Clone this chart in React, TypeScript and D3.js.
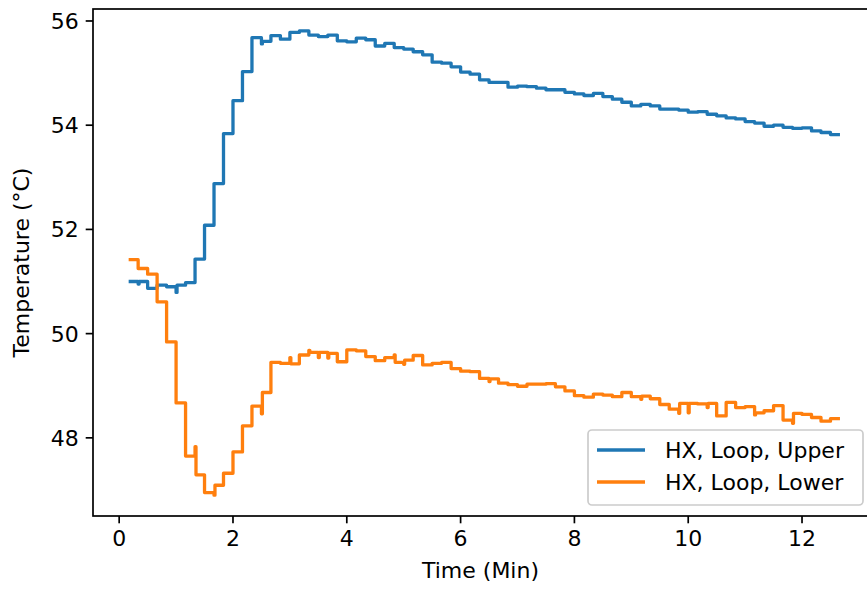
import React from 'react';
import * as d3 from 'd3';

// logger wrote one value every 10 s (times in seconds)
const timeSec = [
  10, 20, 30, 40, 50, 60, 70, 80, 90, 100, 110, 120, 130, 140, 150, 160, 170, 180, 190, 200,
  210, 220, 230, 240, 250, 260, 270, 280, 290, 300, 310, 320, 330, 340, 350, 360, 370, 380, 390, 400,
  410, 420, 430, 440, 450, 460, 470, 480, 490, 500, 510, 520, 530, 540, 550, 560, 570, 580, 590, 600,
  610, 620, 630, 640, 650, 660, 670, 680, 690, 700, 710, 720, 730, 740, 750, 760,
];

const upperTemp = [
  51.0, 51.0, 50.87, 50.93, 50.9, 50.93, 50.98, 51.43, 52.08, 52.88, 53.84, 54.47, 55.03, 55.68, 55.61, 55.72, 55.65, 55.78, 55.81, 55.73,
  55.7, 55.73, 55.62, 55.6, 55.67, 55.64, 55.52, 55.57, 55.49, 55.46, 55.41, 55.35, 55.21, 55.19, 55.12, 55.02, 54.98, 54.87, 54.82, 54.82,
  54.73, 54.75, 54.74, 54.71, 54.68, 54.68, 54.63, 54.6, 54.57, 54.61, 54.55, 54.5, 54.44, 54.37, 54.4, 54.37, 54.31, 54.31, 54.29, 54.25,
  54.26, 54.21, 54.18, 54.14, 54.12, 54.07, 54.04, 53.98, 54.0, 53.96, 53.94, 53.95, 53.89, 53.86, 53.82, 53.82,
];

const lowerTemp = [
  51.42, 51.25, 51.14, 50.61, 49.84, 48.67, 47.65, 47.29, 46.95, 47.09, 47.32, 47.73, 48.23, 48.61, 48.87, 49.45, 49.43, 49.42, 49.59, 49.64,
  49.64, 49.62, 49.46, 49.69, 49.67, 49.56, 49.48, 49.54, 49.45, 49.49, 49.58, 49.4, 49.43, 49.45, 49.33, 49.28, 49.27, 49.14, 49.13, 49.05,
  49.02, 48.99, 49.03, 49.03, 49.04, 48.98, 48.9, 48.81, 48.78, 48.84, 48.82, 48.79, 48.87, 48.79, 48.8, 48.75, 48.64, 48.55, 48.66, 48.66,
  48.65, 48.66, 48.42, 48.68, 48.58, 48.6, 48.48, 48.52, 48.62, 48.34, 48.47, 48.45, 48.39, 48.32, 48.37, 48.37,
];

// short (1 s) sensor glitches at some sample times
const upperGlitchSec = [20, 60, 150];
const upperGlitchTemp = [50.95, 50.79, 55.56];
const lowerGlitchSec = [80, 100, 150, 180, 200, 210, 220, 290, 300, 390, 550, 590, 600, 620, 670, 710];
const lowerGlitchTemp = [47.83, 46.9, 48.46, 49.54, 49.68, 49.54, 49.53, 49.59, 49.41, 49.08, 48.74, 48.47, 48.48, 48.58, 48.44, 48.28];

const xTicks = [0, 2, 4, 6, 8, 10, 12];
const yTicks = [48, 50, 52, 54, 56];
const seriesNames = ['HX, Loop, Upper', 'HX, Loop, Lower'];
const colors = ['#1f77b4', '#ff7f0e'];

const W = 867;
const H = 591;
const FONT = '"DejaVu Sans", sans-serif';
const FS = 22;

type Pt = { t: number; v: number };

function buildPoints(vals: number[], gSec: number[], gVals: number[]): Pt[] {
  const pts: Pt[] = timeSec.map((s, i) => ({ t: s / 60, v: vals[i] }));
  gSec.forEach((s, j) => {
    const p = pts.find((q) => q.t === s / 60);
    if (p) p.t += 1 / 60;
    pts.push({ t: s / 60, v: gVals[j] });
  });
  return pts.sort((a, b) => a.t - b.t);
}

export default function App() {
  const left = 93, right = 876, top = 9, bottom = 516;
  const x = d3.scaleLinear().domain([-0.46, 13.3]).range([left, right]);
  const y = d3.scaleLinear().domain([46.5, 56.23]).range([bottom, top]);

  const line = d3.line<Pt>().x((d) => x(d.t)).y((d) => y(d.v)).curve(d3.curveStepAfter);
  const series = [
    buildPoints(upperTemp, upperGlitchSec, upperGlitchTemp),
    buildPoints(lowerTemp, lowerGlitchSec, lowerGlitchTemp),
  ];

  const tickLen = 7.3;
  const lg = { x: 588, y: 430, w: 275, h: 75 };

  return (
    <svg width={W} height={H} style={{ position: 'absolute', left: 0, top: 0, background: '#fff' }}
      fontFamily={FONT}>
      <defs>
        <clipPath id="plot">
          <rect x={left} y={top} width={right - left} height={bottom - top} />
        </clipPath>
      </defs>
      <g clipPath="url(#plot)">
        {series.map((pts, i) => (
          <path key={i} d={line(pts) || ''} fill="none" stroke={colors[i]} strokeWidth={3.3}
            strokeLinejoin="round" />
        ))}
      </g>
      {/* spines */}
      <rect x={left} y={top} width={right - left} height={bottom - top} fill="none" stroke="#000" strokeWidth={1.7} />
      {/* x axis */}
      {xTicks.map((t) => (
        <g key={t} transform={`translate(${x(t)},${bottom})`}>
          <line y2={tickLen} stroke="#000" strokeWidth={1.7} />
          <text y={tickLen + 7 + 15.5} textAnchor="middle" fontSize={FS} fill="#000">{t}</text>
        </g>
      ))}
      {yTicks.map((t) => (
        <g key={t} transform={`translate(${left},${y(t)})`}>
          <line x2={-tickLen} stroke="#000" strokeWidth={1.7} />
          <text x={-tickLen - 7} dy="0.36em" textAnchor="end" fontSize={FS} fill="#000">{t}</text>
        </g>
      ))}
      <text x={(left + right) / 2 - 4} y={578} textAnchor="middle" fontSize={FS} fill="#000">Time (Min)</text>
      <text transform={`translate(29,${(top + bottom) / 2}) rotate(-90)`} textAnchor="middle" fontSize={FS}
        fill="#000">Temperature (°C)</text>
      {/* legend */}
      <rect x={lg.x} y={lg.y} width={lg.w} height={lg.h} rx={4} fill="#fff" fillOpacity={0.8}
        stroke="#cccccc" strokeWidth={1.7} />
      {seriesNames.map((name, i) => (
        <g key={name} transform={`translate(${lg.x}, ${lg.y + 20 + i * 32})`}>
          <line x1={9} x2={57} stroke={colors[i]} strokeWidth={3.3} />
          <text x={77} dy="0.36em" fontSize={FS} fill="#000">{name}</text>
        </g>
      ))}
    </svg>
  );
}
